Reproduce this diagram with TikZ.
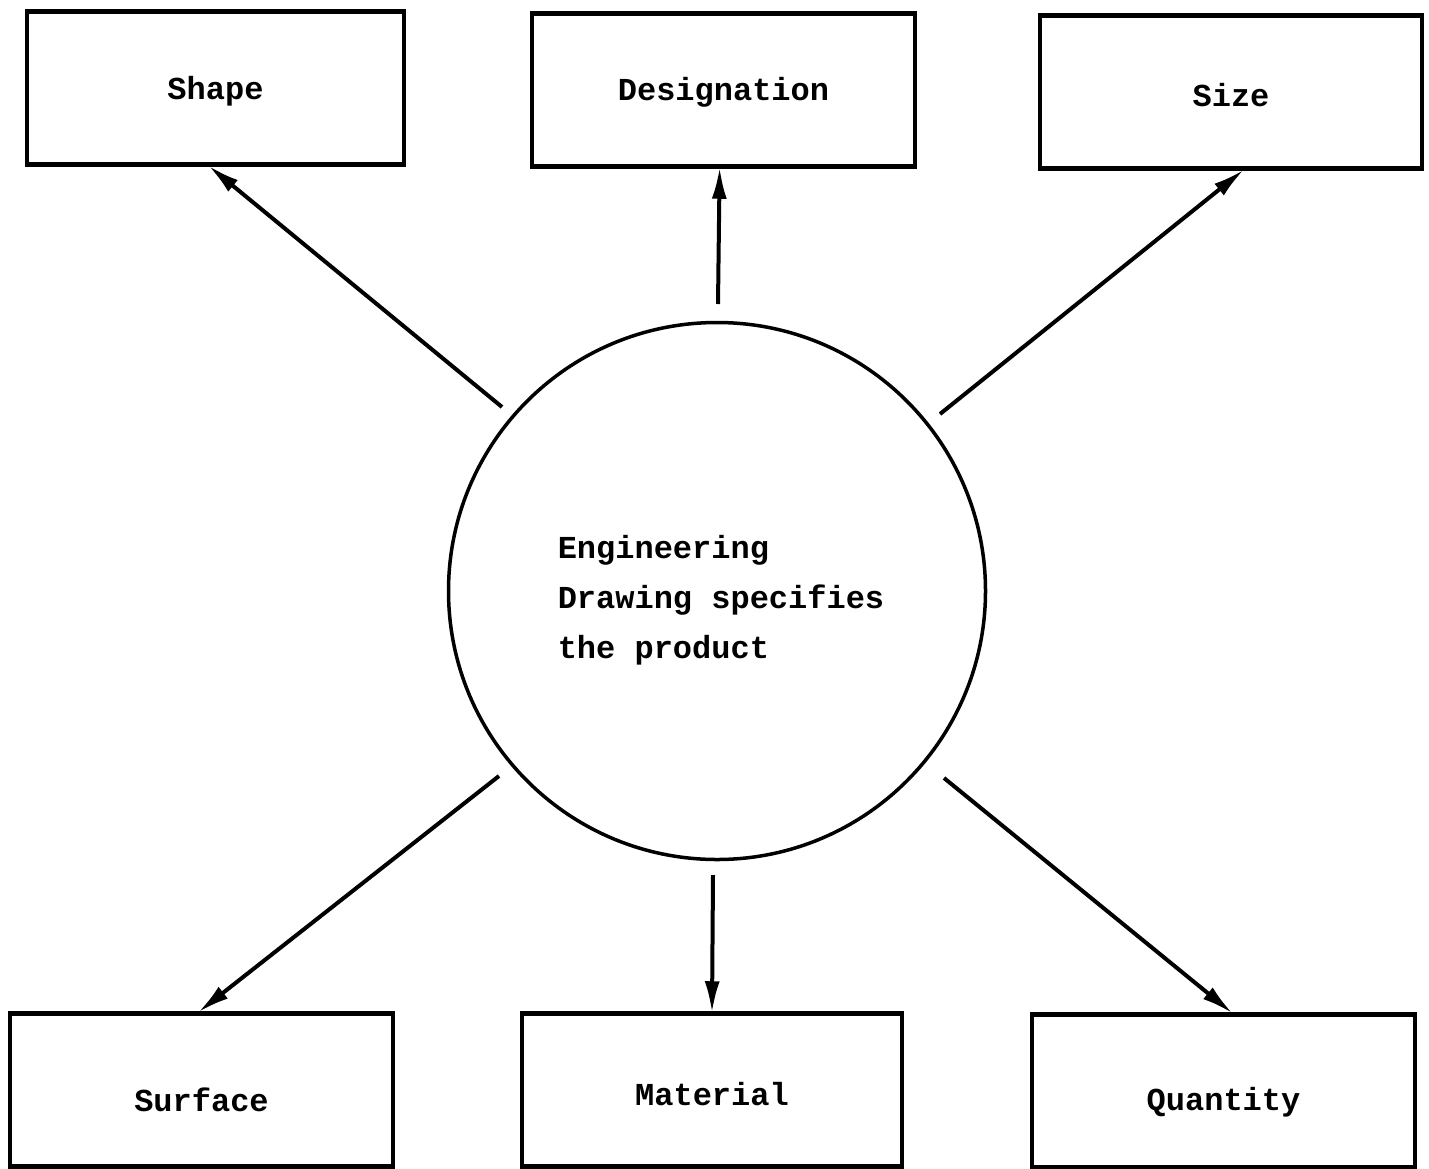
\documentclass[tikz,border=0pt]{standalone}
\usepackage{fontspec}
\setmonofont{Liberation Mono}
\usetikzlibrary{arrows.meta,calc}
% lower a label by #1 without changing its box size
\newcommand\dropby[2]{\raisebox{-#1}[\height][\depth]{#2}}
\begin{document}
\begin{tikzpicture}[x=1pt,y=-1pt,
  box/.style={draw, line width=4.5pt, minimum width=#1, minimum height=153pt,
              inner sep=0pt, font=\fontsize{32}{40}\selectfont\ttfamily\bfseries},
  hub/.style={draw, circle, line width=3.5pt, minimum size=537pt, inner sep=0pt},
  statement/.style={align=left, inner sep=0pt,
              font=\fontsize{32}{50}\selectfont\ttfamily\bfseries},
  arr/.style={line width=4pt, -{Latex[length=32pt,width=15pt]}, shorten >=-2pt}]
\useasboundingbox (0,0) rectangle (1429,1168);

% central statement
\node[hub] (hub) at (717,591) {};
\node[statement] (stmt) at (721,600) {Engineering\\Drawing specifies\\the product};

% outer boxes
\node[box=377pt] (shape) at (215.5,88)  {\dropby{3pt}{Shape}};
\node[box=383pt] (desig) at (723.5,90)  {\dropby{2pt}{Designation}};
\node[box=382pt] (size)  at (1231,92)   {\dropby{3pt}{Size}};
\node[box=383pt] (surf)  at (201.5,1090) {\dropby{10pt}{Surface}};
\node[box=380pt] (mat)   at (712,1090)  {\dropby{4pt}{Material}};
\node[box=383pt] (qty)   at (1223.5,1091) {\dropby{11pt}{Quantity}};

% tails of the arrows, just off the circle
\coordinate (tShape) at (502,407);
\coordinate (tDesig) at (718,304);
\coordinate (tSize)  at (940,414);
\coordinate (tSurf)  at (499,776);
\coordinate (tMat)   at (713,875);
\coordinate (tQty)   at (944,778);

\draw[arr] (tShape) -- ($(shape.south west)!0.485!(shape.south east)$);
\draw[arr] (tDesig) -- ($(desig.south west)!0.49!(desig.south east)$);
\draw[arr] (tSize)  -- ($(size.south west)!0.53!(size.south east)$);
\draw[arr] (tSurf)  -- ($(surf.north west)!0.495!(surf.north east)$);
\draw[arr] (tMat)   -- (mat.north);
\draw[arr] (tQty)   -- ($(qty.north west)!0.52!(qty.north east)$);
\end{tikzpicture}
\end{document}
